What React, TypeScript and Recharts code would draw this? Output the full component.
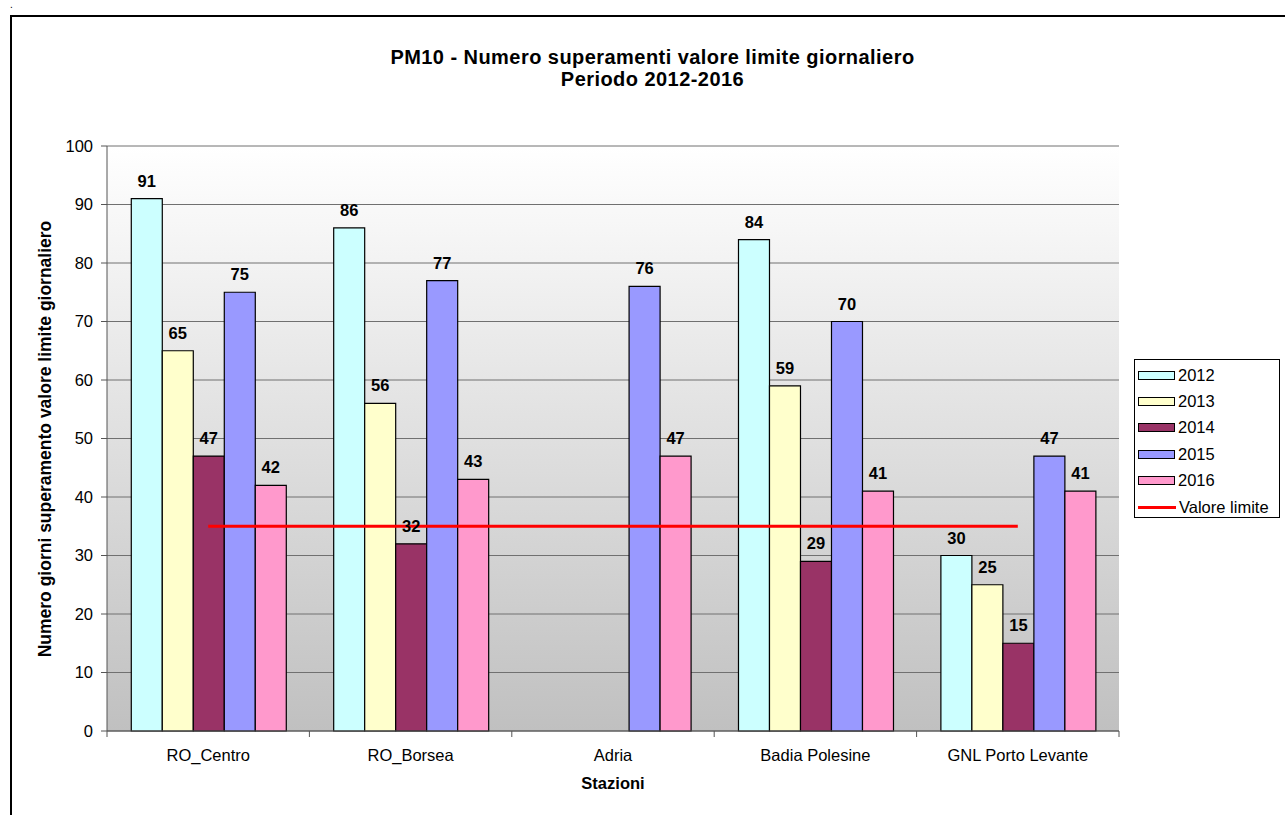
import React from 'react';
import { ComposedChart, Bar, Line, XAxis, YAxis, CartesianGrid, LabelList } from 'recharts';

const stations = ['RO_Centro', 'RO_Borsea', 'Adria', 'Badia Polesine', 'GNL Porto Levante'];
const years = ['2012', '2013', '2014', '2015', '2016'];
const v2012 = [91, 86, null, 84, 30];
const v2013 = [65, 56, null, 59, 25];
const v2014 = [47, 32, null, 29, 15];
const v2015 = [75, 77, 76, 70, 47];
const v2016 = [42, 43, 47, 41, 41];
const limitValue = [35, 35, 35, 35, 35];
const yTicks = [0, 10, 20, 30, 40, 50, 60, 70, 80, 90, 100];
const yearColors = ['#CCFFFF', '#FFFFCC', '#993366', '#9999FF', '#FF99CC'];
const limitLabel = 'Valore limite';

const seriesValues = [v2012, v2013, v2014, v2015, v2016];
const data = stations.map((s, i) => {
    const row: Record<string, any> = { name: s, limit: limitValue[i] };
    years.forEach((y, k) => { row[y] = seriesValues[k][i]; });
    return row;
});

const FONT = 'Arial, "Liberation Sans", sans-serif';
const TICK_SIZE = 6;
const TICK_MARGIN = 12;

// category label plus tick marks on the band edges (Excel style)
const StationTick = (props: any) => {
    const { x, y, payload, width, visibleTicksCount, index } = props;
    const half = width && visibleTicksCount ? width / visibleTicksCount / 2 : 0;
    const y0 = y - TICK_SIZE - TICK_MARGIN;
    return (
        <g>
            {half > 0 && <line x1={x - half} x2={x - half} y1={y0} y2={y0 + TICK_SIZE} stroke="#555" />}
            {half > 0 && index === visibleTicksCount - 1 && (
                <line x1={x + half} x2={x + half} y1={y0} y2={y0 + TICK_SIZE} stroke="#555" />
            )}
            <text x={x} y={y} dy="0.71em" textAnchor="middle" fill="#000" fontSize={16.5} fontFamily={FONT}>
                {payload.value}
            </text>
        </g>
    );
};

const App: React.FC = () => (
    <div style={{ position: 'absolute', left: 0, top: 0, width: 1285, height: 815, overflow: 'hidden', background: '#fff', fontFamily: FONT }}>
        <div style={{ position: 'absolute', left: 10, top: 0, fontSize: 10, lineHeight: '10px' }}>.</div>
        <div style={{ position: 'absolute', left: 10, top: 15, width: 1300, height: 900, border: '2px solid #000', boxSizing: 'border-box' }} />

        <div style={{ position: 'absolute', left: 0, width: 1285, top: 46, textAlign: 'center', fontWeight: 'bold', fontSize: 20, letterSpacing: 0.45, lineHeight: '22px', paddingLeft: 20, boxSizing: 'border-box' }}>
            PM10 - Numero superamenti valore limite giornaliero<br />Periodo 2012-2016
        </div>

        <div style={{ position: 'absolute', left: 45, top: 439, transform: 'translate(-50%, -50%) rotate(-90deg)', whiteSpace: 'nowrap', fontWeight: 'bold', fontSize: 17.5 }}>
            Numero giorni superamento valore limite giornaliero
        </div>
        <div style={{ position: 'absolute', left: 613, top: 783, transform: 'translate(-50%, -50%)', fontWeight: 'bold', fontSize: 16.5 }}>
            Stazioni
        </div>

        <div style={{ position: 'absolute' }}>
            <ComposedChart width={1285} height={815} data={data} margin={{ top: 146, right: 166, bottom: 54, left: 0 }}
                barCategoryGap="12%" barGap={0}>
                <defs>
                    <linearGradient id="plotBg" x1="0" y1="0" x2="0" y2="1">
                        <stop offset="0%" stopColor="#FFFFFF" />
                        <stop offset="100%" stopColor="#C0C0C0" />
                    </linearGradient>
                </defs>
                <CartesianGrid vertical={false} stroke="#707070" fill="url(#plotBg)" fillOpacity={1} />
                <XAxis dataKey="name" height={30} tickLine={false} tickSize={TICK_SIZE} tickMargin={TICK_MARGIN}
                    axisLine={{ stroke: '#555' }} tick={<StationTick />} interval={0} />
                <YAxis width={107} domain={[0, 100]} ticks={yTicks} interval={0} tickSize={6} tickMargin={8}
                    axisLine={{ stroke: '#555' }} tickLine={{ stroke: '#555' }}
                    tick={{ fill: '#000', fontSize: 16.5, fontFamily: FONT }} />
                <YAxis yAxisId="frame" orientation="right" width={0} tick={false} tickLine={false}
                    axisLine={{ stroke: '#909090' }} domain={[0, 100]} />
                {years.map((y, k) => (
                    <Bar key={y} dataKey={y} fill={yearColors[k]} stroke="#000" strokeWidth={1.2} isAnimationActive={false}>
                        <LabelList dataKey={y} position="top" offset={12}
                            style={{ fill: '#000', fontWeight: 'bold', fontSize: 16.5, fontFamily: FONT }} />
                    </Bar>
                ))}
                <Line dataKey="limit" type="linear" stroke="#FF0000" strokeWidth={3} dot={false} isAnimationActive={false} />
            </ComposedChart>
        </div>

        <div style={{ position: 'absolute', left: 1134, top: 359, width: 146, height: 159, border: '1px solid #000', boxSizing: 'border-box', background: '#fff', paddingTop: 2 }}>
            {years.map((y, k) => (
                <div key={y} style={{ display: 'flex', alignItems: 'center', height: 26.4, fontSize: 16.5 }}>
                    <span style={{ display: 'inline-block', marginLeft: 3, width: 37, height: 9, background: yearColors[k], border: '1.5px solid #000', boxSizing: 'border-box' }} />
                    <span style={{ marginLeft: 3 }}>{y}</span>
                </div>
            ))}
            <div style={{ display: 'flex', alignItems: 'center', height: 26.4, fontSize: 16.5 }}>
                <span style={{ display: 'inline-block', marginLeft: 3, width: 38, height: 3, background: '#FF0000' }} />
                <span style={{ marginLeft: 3 }}>{limitLabel}</span>
            </div>
        </div>
    </div>
);

export default App;
